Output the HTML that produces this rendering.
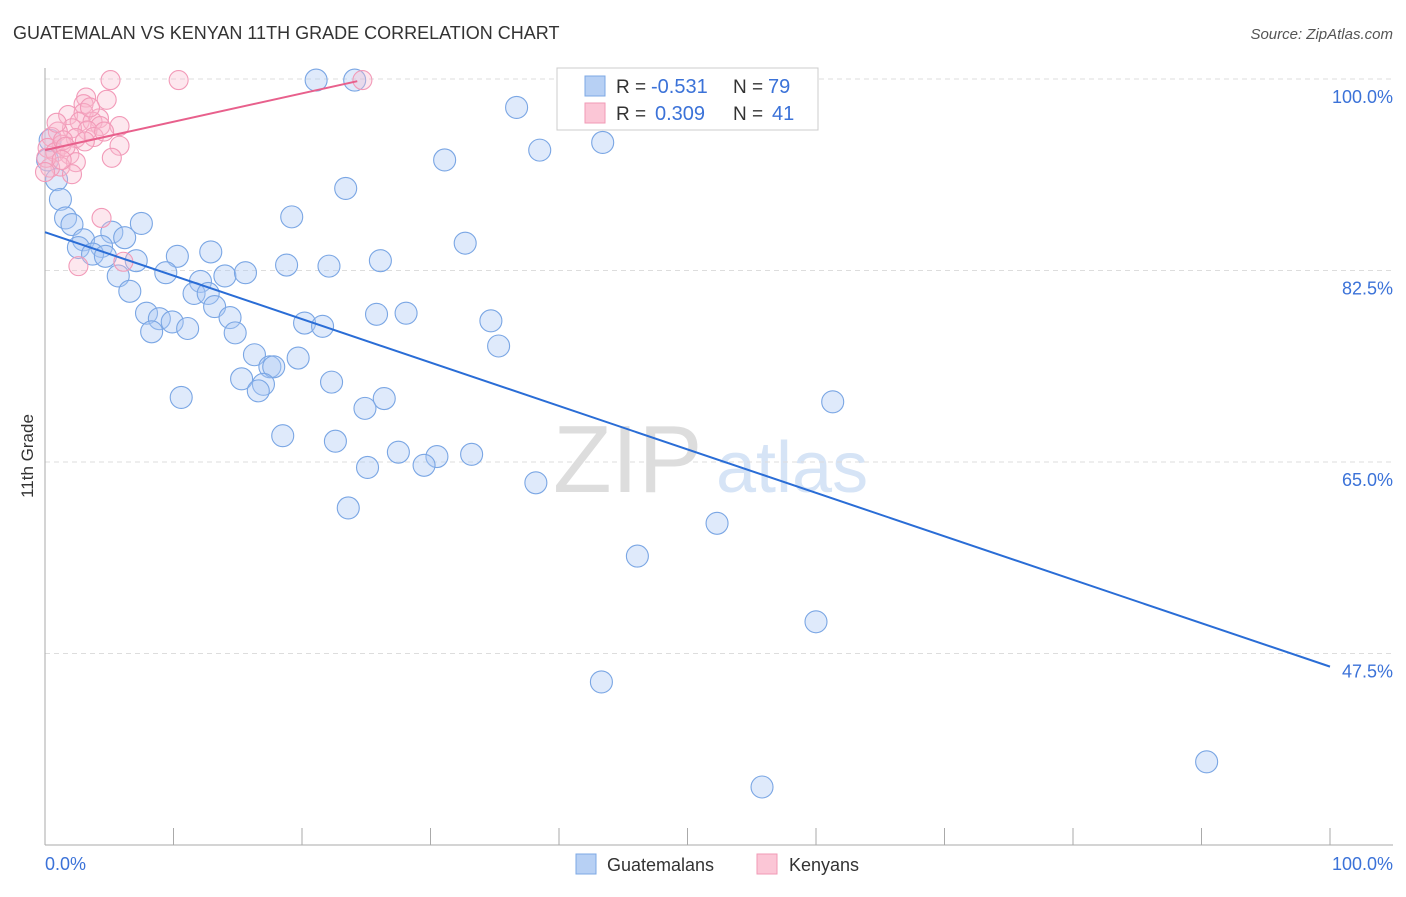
<!DOCTYPE html>
<html><head><meta charset="utf-8"><style>
body{margin:0;background:#fff;font-family:"Liberation Sans",sans-serif;}
svg text{font-family:"Liberation Sans",sans-serif;}
</style></head><body>
<svg id="chart" width="1406" height="892" xmlns="http://www.w3.org/2000/svg">
<text x="13" y="39" font-size="18" fill="#333">GUATEMALAN VS KENYAN 11TH GRADE CORRELATION CHART</text>
<text x="1393" y="39" font-size="15" fill="#555" text-anchor="end" font-style="italic">Source: ZipAtlas.com</text>
<g>
<text x="553" y="492" font-size="96" fill="#ddd" font-family="Liberation Serif, serif">ZIP</text>
<text x="716" y="492" font-size="72" fill="#d6e4f6">atlas</text>
</g>
<g id="grid"></g>
<line x1="45" y1="68" x2="45" y2="845" stroke="#aaa"/>
<line x1="45" y1="845" x2="1393" y2="845" stroke="#aaa"/>
<g id="ticks"></g>
<text transform="translate(33,456) rotate(-90)" font-size="17" fill="#333" text-anchor="middle">11th Grade</text>
<text x="45" y="870" font-size="18" fill="#3b72d8">0.0%</text>
<text x="1393" y="870" font-size="18" fill="#3b72d8" text-anchor="end">100.0%</text>
<g id="pts"></g>
<g id="lines"></g>
<g>
<rect x="557" y="68" width="261" height="62" fill="#fff" stroke="#ccc"/>
<rect x="585" y="76" width="20" height="20" fill="#b7d0f4" stroke="#7ea8e4"/>
<rect x="585" y="103" width="20" height="20" fill="#fbc6d6" stroke="#f09ab6"/>
<text x="616" y="93" font-size="19" fill="#333">R =</text>
<text x="651" y="93" font-size="20" fill="#3b72d8">-0.531</text>
<text x="733" y="93" font-size="19" fill="#333">N =</text>
<text x="768" y="93" font-size="20" fill="#3b72d8">79</text>
<text x="616" y="120" font-size="19" fill="#333">R =</text>
<text x="655" y="120" font-size="20" fill="#3b72d8">0.309</text>
<text x="733" y="120" font-size="19" fill="#333">N =</text>
<text x="772" y="120" font-size="20" fill="#3b72d8">41</text>
</g>
<g>
<rect x="576" y="854" width="20" height="20" fill="#b7d0f4" stroke="#7ea8e4"/>
<text x="607" y="871" font-size="18" fill="#333">Guatemalans</text>
<rect x="757" y="854" width="20" height="20" fill="#fbc6d6" stroke="#f09ab6"/>
<text x="789" y="871" font-size="18" fill="#333">Kenyans</text>
</g>
</svg>
<script>
const yTicks=[100,82.5,65,47.5];
const yTickLabels=["100.0%","82.5%","65.0%","47.5%"];
const xTicks=[10,20,30,40,50,60,70,80,90,100];
const blueX=[21.1,24.1,58.6,36.7,38.5,43.4,31.1,23.4,0.9,1.2,1.6,2.1,19.2,7.5,5.2,6.2,3.0,2.6,4.4,3.7,4.7,7.1,10.3,12.9,32.7,18.8,22.1,26.1,5.7,9.4,12.1,14.0,15.6,6.6,11.6,12.7,13.2,7.9,8.9,9.9,8.3,11.1,14.4,14.8,20.2,21.6,25.8,28.1,34.7,35.3,16.3,19.7,17.5,17.8,15.3,17.0,16.6,22.3,10.6,26.4,24.9,61.3,18.5,22.6,27.5,30.5,33.2,25.1,29.5,38.2,23.6,52.3,46.1,60.0,43.3,90.4,55.8,0.2,0.4];
const blueY=[99.9,99.9,99.9,97.4,93.5,94.2,92.6,90.0,90.8,89.0,87.3,86.7,87.4,86.8,86.0,85.5,85.3,84.6,84.7,84.0,83.8,83.4,83.8,84.2,85.0,83.0,82.9,83.4,82.0,82.3,81.5,82.0,82.3,80.6,80.4,80.4,79.2,78.6,78.1,77.8,76.9,77.2,78.2,76.8,77.7,77.4,78.5,78.6,77.9,75.6,74.8,74.5,73.7,73.7,72.6,72.1,71.5,72.3,70.9,70.8,69.9,70.5,67.4,66.9,65.9,65.5,65.7,64.5,64.7,63.1,60.8,59.4,56.4,50.4,44.9,37.6,35.3,92.6,94.4];
const pinkX=[5.1,10.4,24.7,3.2,4.8,3.0,1.8,3.0,4.2,2.7,5.8,2.1,3.7,4.3,3.3,1.0,0.5,2.4,3.8,5.8,1.3,0.2,0.8,1.9,5.2,2.4,1.2,2.1,0.4,0.1,4.4,2.6,6.1,1.4,0.0,1.6,0.9,3.5,4.6,3.1,1.3];
const pinkY=[99.9,99.9,99.9,98.3,98.1,97.7,96.7,96.9,96.4,96.1,95.7,95.5,96.1,95.7,95.3,95.2,94.7,94.6,94.7,93.9,94.0,93.7,93.3,93.1,92.8,92.4,92.0,91.3,91.9,92.8,87.3,82.9,83.3,94.4,91.5,93.8,96.0,97.4,95.2,94.3,92.6];
const blueTrend=[[0,86.0],[100,46.3]];
const pinkTrend=[[0,93.5],[24.3,99.8]];
const NS="http://www.w3.org/2000/svg";
const X=v=>45+v*12.85;
const Y=v=>79+(100-v)/17.5*191.5;
function mk(tag,attrs,parent){const e=document.createElementNS(NS,tag);for(const k in attrs)e.setAttribute(k,attrs[k]);document.getElementById(parent).appendChild(e);return e;}
yTicks.forEach((t,i)=>{
 const g=mk('line',{x1:45,x2:1393,y1:Y(t),y2:Y(t),stroke:'#ddd','stroke-dasharray':'5,4'},'grid');
 
 
 const l=mk('text',{x:1393,y:Y(t)+24,'font-size':18,fill:'#3b72d8','text-anchor':'end'},'grid');
 l.textContent=yTickLabels[i];
 
 
});
xTicks.forEach(t=>{
 const k=mk('line',{x1:X(t),x2:X(t),y1:828,y2:845,stroke:'#aaa'},'ticks');
 
 
});
blueX.forEach((v,i)=>{
 const c=mk('circle',{cx:X(v),cy:Y(blueY[i]),r:11,fill:'rgba(170,200,244,0.38)',stroke:'#7aa6e4','stroke-width':1.1},'pts');
 
 
});
pinkX.forEach((v,i)=>{
 const c=mk('circle',{cx:X(v),cy:Y(pinkY[i]),r:9.5,fill:'rgba(250,185,205,0.35)',stroke:'#f29ab8','stroke-width':1.1},'pts');
 
 
});
const bl=mk('line',{x1:X(blueTrend[0][0]),y1:Y(blueTrend[0][1]),x2:X(blueTrend[1][0]),y2:Y(blueTrend[1][1]),stroke:'#2a6dd6','stroke-width':2},'lines');


const pl=mk('line',{x1:X(pinkTrend[0][0]),y1:Y(pinkTrend[0][1]),x2:X(pinkTrend[1][0]),y2:Y(pinkTrend[1][1]),stroke:'#e8608c','stroke-width':2},'lines');


</script>
</body></html>
